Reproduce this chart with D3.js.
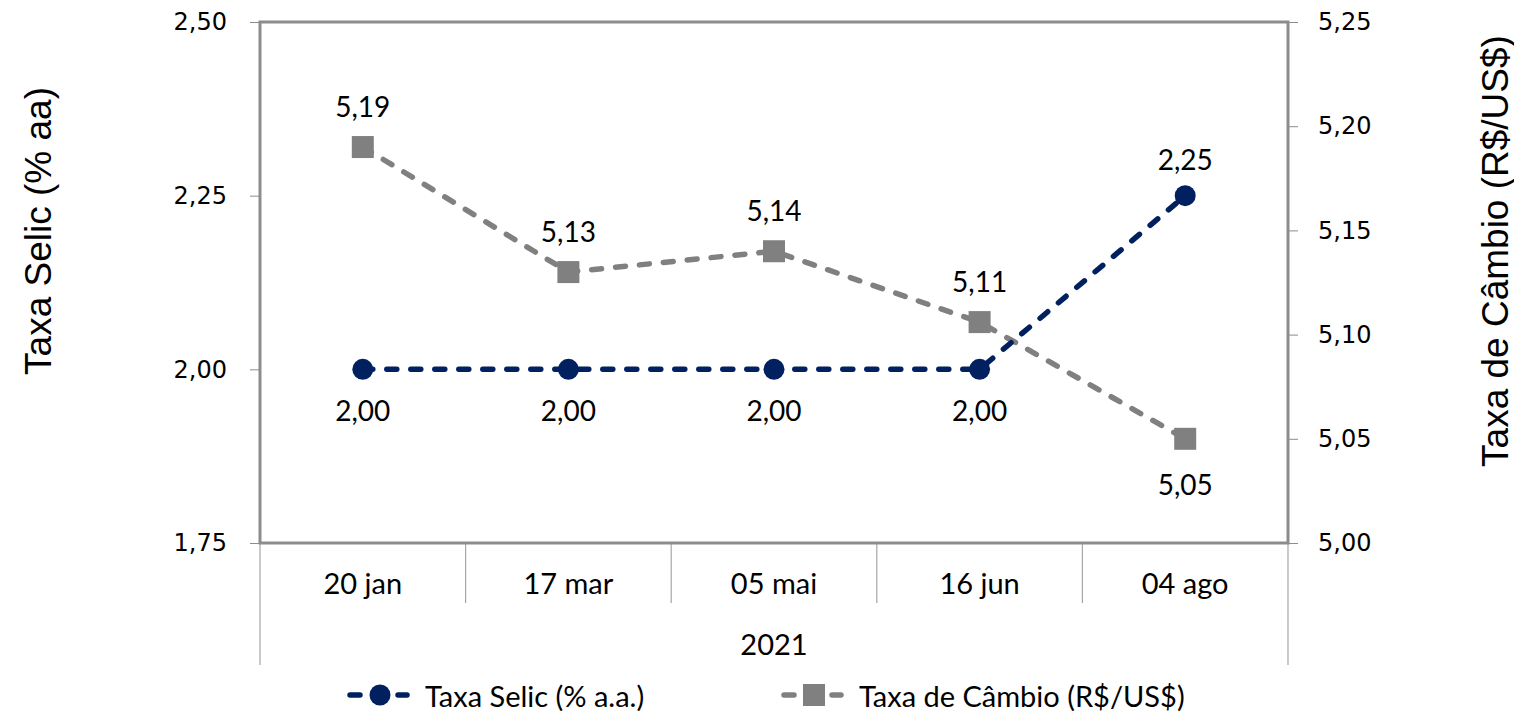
<!DOCTYPE html>
<html>
<head>
<meta charset="utf-8">
<script src="https://cdn.jsdelivr.net/npm/d3@7"></script>
<style>
  body { margin: 0; background: #fff; }
  svg { display: block; }
</style>
</head>
<body>
<svg id="chart" width="1514" height="711"></svg>
<script>
const categories = ["20 jan", "17 mar", "05 mai", "16 jun", "04 ago"];
const yearLabel = "2021";
const selic = [2.0, 2.0, 2.0, 2.0, 2.25];
const cambio = [5.19, 5.13, 5.14, 5.106, 5.05];
const selicTicks = [1.75, 2.0, 2.25, 2.5];
const cambioTicks = [5.0, 5.05, 5.1, 5.15, 5.2, 5.25];
// label position: 1 = above, -1 = below
const selicLabelPos = [-1, -1, -1, -1, 1];
const cambioLabelPos = [1, 1, 1, 1, -1];

const NAVY = "#002060";
const GREY = "#808080";
const AXIS = "#8c8c8c";
const CAL = "Lato, Carlito, sans-serif";
const DASH = "10 14";

var margin = { top: 22, right: 226, bottom: 168, left: 260 };
var width = 1514 - margin.left - margin.right;
var height = 711 - margin.top - margin.bottom;

const svg = d3.select("#chart")
  .append("g")
  .attr("transform", `translate(${margin.left}, ${margin.top})`);

var fmt = v => v.toFixed(2).replace(".", ",");

var x = d3.scaleBand().domain(categories).range([0, width]);
var yL = d3.scaleLinear().domain([1.75, 2.5]).range([height, 0]);
var yR = d3.scaleLinear().domain([5.0, 5.25]).range([height, 0]);

// left axis
var gl = svg.append("g")
  .call(d3.axisLeft(yL).tickValues(selicTicks).tickSize(10).tickPadding(23).tickFormat(fmt));
gl.select(".domain").remove();
gl.selectAll(".tick line").attr("stroke", AXIS);
gl.selectAll("text").style("font-family", "DejaVu Sans").style("font-size", "24px").attr("fill", "#000");

// right axis
var gr = svg.append("g")
  .attr("transform", `translate(${width}, 0)`)
  .call(d3.axisRight(yR).tickValues(cambioTicks).tickSize(10).tickPadding(20).tickFormat(fmt));
gr.select(".domain").remove();
gr.selectAll(".tick line").attr("stroke", AXIS);
gr.selectAll("text").style("font-family", "DejaVu Sans").style("font-size", "24px").attr("fill", "#000");

// category dividers
var cat = svg.append("g");
categories.forEach((c, i) => {
  if (i > 0) {
    cat.append("line")
      .attr("x1", x(c)).attr("x2", x(c))
      .attr("y1", height).attr("y2", height + 60)
      .attr("stroke", "#a6a6a6").attr("stroke-width", 1.2);
  }
});
[0, width].forEach(px => {
  cat.append("line")
    .attr("x1", px).attr("x2", px)
    .attr("y1", height).attr("y2", height + 122)
    .attr("stroke", "#a6a6a6").attr("stroke-width", 1.2);
});
cat.selectAll(".cat")
  .data(categories)
  .enter()
  .append("text")
  .attr("x", d => x(d) + x.bandwidth() / 2)
  .attr("y", height + 51)
  .attr("text-anchor", "middle")
  .style("font-family", CAL)
  .style("font-size", "29px")
  .text(d => d);
cat.append("text")
  .attr("x", width / 2)
  .attr("y", height + 112)
  .attr("text-anchor", "middle")
  .style("font-family", CAL)
  .style("font-size", "29px")
  .text(yearLabel);

// plot border
svg.append("rect")
  .attr("x", 0).attr("y", 0)
  .attr("width", width).attr("height", height)
  .attr("fill", "none")
  .attr("stroke", AXIS)
  .attr("stroke-width", 3);

// axis titles
svg.append("text")
  .attr("transform", `translate(${38 - margin.left}, ${231 - margin.top}) rotate(-90)`)
  .attr("text-anchor", "middle")
  .attr("dominant-baseline", "central")
  .style("font-family", "Liberation Sans, Arial, sans-serif")
  .style("font-size", "37px")
  .text("Taxa Selic (% aa)");
svg.append("text")
  .attr("transform", `translate(${1495 - margin.left}, ${251 - margin.top}) rotate(-90)`)
  .attr("text-anchor", "middle")
  .attr("dominant-baseline", "central")
  .style("font-family", "Liberation Sans, Arial, sans-serif")
  .style("font-size", "37px")
  .text("Taxa de Câmbio (R$/US$)");

var cx = i => x(categories[i]) + x.bandwidth() / 2;

var lineL = d3.line().x((d, i) => cx(i)).y(d => yL(d));
var lineR = d3.line().x((d, i) => cx(i)).y(d => yR(d));

// cambio series
svg.append("path")
  .attr("d", lineR(cambio))
  .attr("fill", "none")
  .attr("stroke", GREY)
  .attr("stroke-width", 5.5)
  .attr("stroke-dasharray", DASH)
  .attr("stroke-linecap", "round");
svg.selectAll(".sq")
  .data(cambio)
  .enter()
  .append("rect")
  .attr("x", (d, i) => cx(i) - 11)
  .attr("y", d => yR(d) - 11)
  .attr("width", 22).attr("height", 22)
  .attr("fill", GREY);

// selic series
svg.append("path")
  .attr("d", lineL(selic))
  .attr("fill", "none")
  .attr("stroke", NAVY)
  .attr("stroke-width", 5.5)
  .attr("stroke-dasharray", DASH)
  .attr("stroke-linecap", "round");
svg.selectAll(".dot")
  .data(selic)
  .enter()
  .append("circle")
  .attr("cx", (d, i) => cx(i))
  .attr("cy", d => yL(d))
  .attr("r", 10.5)
  .attr("fill", NAVY);

// data labels
svg.selectAll(".lblR")
  .data(cambio)
  .enter()
  .append("text")
  .attr("x", (d, i) => cx(i))
  .attr("y", (d, i) => yR(d) + (cambioLabelPos[i] > 0 ? -30 : 56))
  .attr("text-anchor", "middle")
  .style("font-family", CAL)
  .style("font-size", "28px")
  .text(d => fmt(d));
svg.selectAll(".lblL")
  .data(selic)
  .enter()
  .append("text")
  .attr("x", (d, i) => cx(i))
  .attr("y", (d, i) => yL(d) + (selicLabelPos[i] > 0 ? -26 : 52))
  .attr("text-anchor", "middle")
  .style("font-family", CAL)
  .style("font-size", "28px")
  .text(d => fmt(d));

// legend
var legend = d3.select("#chart").append("g").attr("transform", "translate(0, 695)");
var items = [
  { name: "Taxa Selic (% a.a.)", color: NAVY, x0: 347, shape: "circle" },
  { name: "Taxa de Câmbio (R$/US$)", color: GREY, x0: 781, shape: "rect" }
];
items.forEach(it => {
  legend.append("line")
    .attr("x1", it.x0 + 3).attr("x2", it.x0 + 60)
    .attr("y1", 0).attr("y2", 0)
    .attr("stroke", it.color)
    .attr("stroke-width", 5.5)
    .attr("stroke-dasharray", "10 14")
    .attr("stroke-linecap", "round");
  if (it.shape === "circle") {
    legend.append("circle").attr("cx", it.x0 + 33).attr("cy", 0).attr("r", 10.5).attr("fill", it.color);
  } else {
    legend.append("rect").attr("x", it.x0 + 22).attr("y", -11).attr("width", 22).attr("height", 22).attr("fill", it.color);
  }
  legend.append("text")
    .attr("x", it.x0 + 78)
    .attr("y", 0)
    .attr("dominant-baseline", "central")
    .style("font-family", CAL)
    .style("font-size", "29px")
    .text(it.name);
});
</script>
</body>
</html>
